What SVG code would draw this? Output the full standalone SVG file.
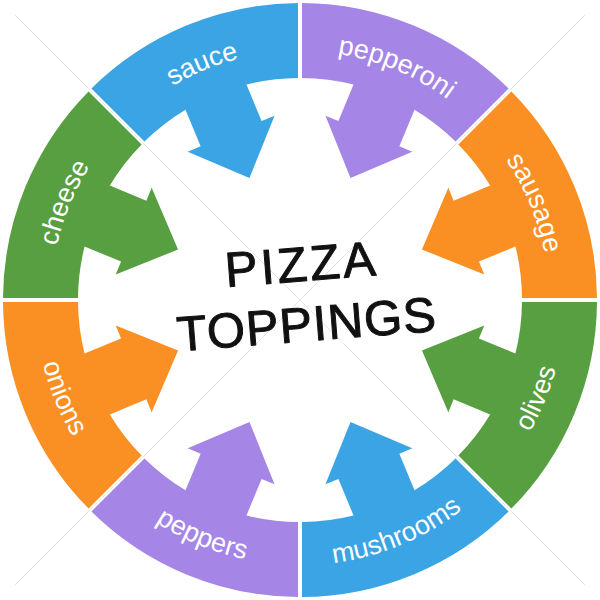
<svg xmlns="http://www.w3.org/2000/svg" xmlns:xlink="http://www.w3.org/1999/xlink" width="600" height="600" viewBox="0 0 600 600">
  <style>
    .lbl { font-family: "Liberation Sans", Arial, sans-serif; font-size: 27px; fill: #ffffff; }
    .title { font-family: "Liberation Sans", Arial, sans-serif; font-size: 49px; fill: #111111; stroke: #111111; stroke-width: 1; stroke-linejoin: round; stroke-linecap: round; text-anchor: middle; }
    .blue { fill: #3aa4e4; }
    .purple { fill: #a586e7; }
    .orange { fill: #fa8f23; }
    .green { fill: #579f41; }
  </style>
  <defs>
    <path id="seg" d="M -111.81 -275.16 A 297 297 0 0 1 111.81 -275.16 L 83.11 -205.87 A 222 222 0 0 0 33 -219.53 L 33 -180 L 47 -180 L 0 -132 L -47 -180 L -33 -180 L -33 -219.53 A 222 222 0 0 0 -83.11 -205.87 Z"/>
    <path id="cw" d="M -95.29 -230.04 A 249 249 0 0 1 95.29 -230.04"/>
    <path id="ccw" d="M 101.41 -244.83 A 265 265 0 0 0 -101.41 -244.83"/>
  </defs>
  <rect width="600" height="600" fill="#ffffff"/>
  <g id="watermark-lines" stroke="#e6e6e6" stroke-width="1">
    <line x1="15" y1="15" x2="585" y2="585"/>
    <line x1="585" y1="15" x2="15" y2="585"/>
  </g>
  <g id="connectors"/>
  <g id="sauce" transform="translate(300 300) rotate(-22.5)">
    <use xlink:href="#seg" class="blue"/>
    <text class="lbl"><textPath xlink:href="#cw" startOffset="50%" text-anchor="middle">sauce</textPath></text>
  </g>
  <g id="pepperoni" transform="translate(300 300) rotate(22.5)">
    <use xlink:href="#seg" class="purple"/>
    <text class="lbl"><textPath xlink:href="#cw" startOffset="50%" text-anchor="middle">pepperoni</textPath></text>
  </g>
  <g id="sausage" transform="translate(300 300) rotate(67.5)">
    <use xlink:href="#seg" class="orange"/>
    <text class="lbl"><textPath xlink:href="#cw" startOffset="50%" text-anchor="middle">sausage</textPath></text>
  </g>
  <g id="olives" transform="translate(300 300) rotate(112.5)">
    <use xlink:href="#seg" class="green"/>
    <text class="lbl"><textPath xlink:href="#ccw" startOffset="50%" text-anchor="middle">olives</textPath></text>
  </g>
  <g id="mushrooms" transform="translate(300 300) rotate(157.5)">
    <use xlink:href="#seg" class="blue"/>
    <text class="lbl"><textPath xlink:href="#ccw" startOffset="50%" text-anchor="middle">mushrooms</textPath></text>
  </g>
  <g id="peppers" transform="translate(300 300) rotate(202.5)">
    <use xlink:href="#seg" class="purple"/>
    <text class="lbl"><textPath xlink:href="#ccw" startOffset="50%" text-anchor="middle">peppers</textPath></text>
  </g>
  <g id="onions" transform="translate(300 300) rotate(-112.5)">
    <use xlink:href="#seg" class="orange"/>
    <text class="lbl"><textPath xlink:href="#ccw" startOffset="50%" text-anchor="middle">onions</textPath></text>
  </g>
  <g id="cheese" transform="translate(300 300) rotate(-67.5)">
    <use xlink:href="#seg" class="green"/>
    <text class="lbl"><textPath xlink:href="#cw" startOffset="50%" text-anchor="middle">cheese</textPath></text>
  </g>
  <g id="title">
    <text class="title" x="303" y="281" letter-spacing="3" transform="rotate(-4.5 303 281)">PIZZA</text>
    <text class="title" x="308" y="341" letter-spacing="1" transform="rotate(-4.5 308 341)">TOPPINGS</text>
  </g>
</svg>
